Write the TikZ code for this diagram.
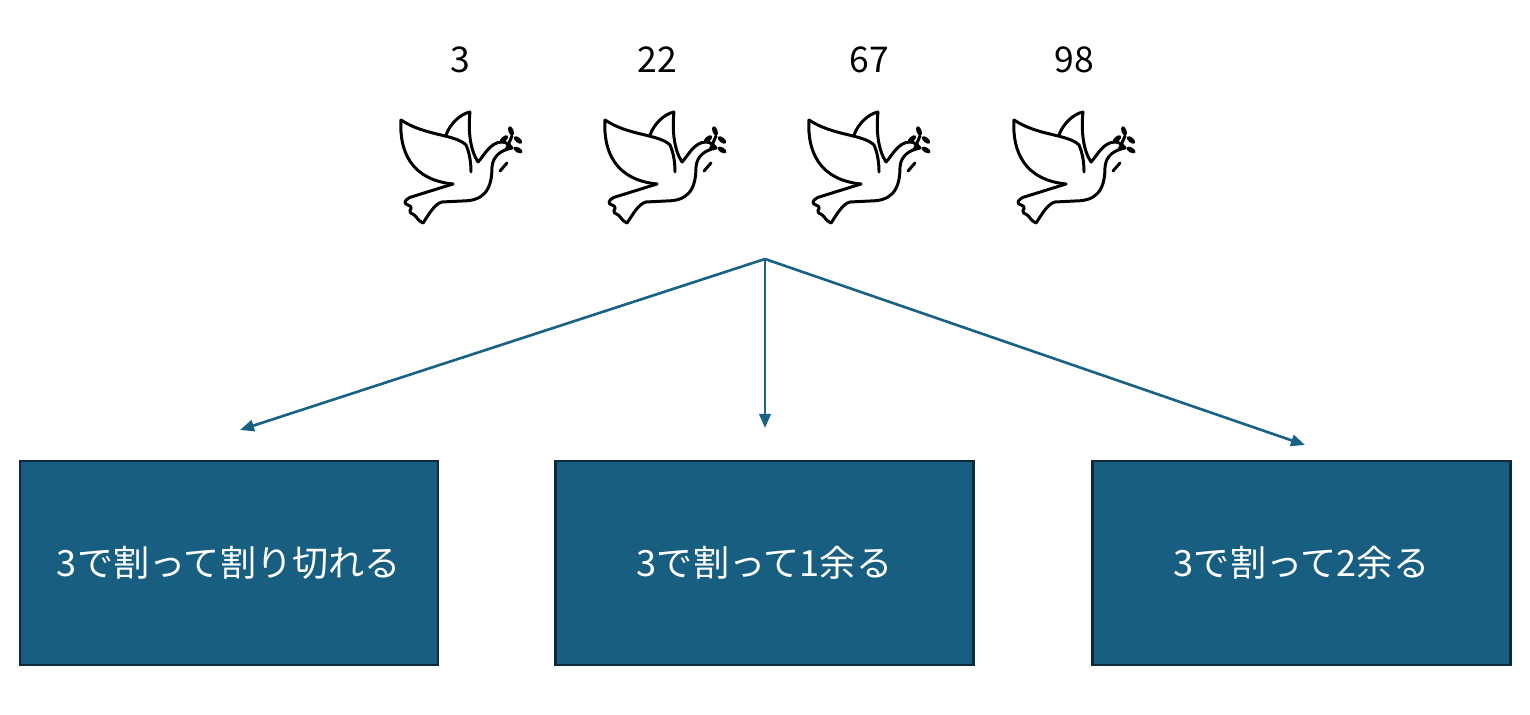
\documentclass[tikz,border=0pt]{standalone}
\usepackage{fontspec}
\setmainfont{Noto Sans CJK JP}
\usetikzlibrary{arrows.meta}
\definecolor{boxblue}{RGB}{23,94,128}
\definecolor{boxedge}{RGB}{14,42,58}
\definecolor{arrowblue}{RGB}{26,98,133}

\tikzset{
  dove/.pic={
    \begin{scope}[line width=1.7pt,line cap=round,line join=round]
      % front wing
      \draw (1,8) .. controls (-1,40) and (12,68) .. (53,72);
      \draw (1,8) .. controls (25,24) and (55,22) .. (66,33) .. controls (70,42) and (71,52) .. (71,60);
      % back wing
      \draw (46,23) .. controls (50,12) and (60,2) .. (70,0) .. controls (68,18) and (70,38) .. (78,50);
      % head and body
      \draw (78,50) .. controls (84,44) and (90,30) .. (102,30) .. controls (106,30) and (110,33) .. (112,36)
        .. controls (102,38) and (93,43) .. (92,55) .. controls (92,80) and (82,89) .. (62,89)
        -- (42,90) .. controls (34,92) and (28,104) .. (23,111);
      % tail
      \draw[rounded corners=1pt] (53,72) -- (8,86) -- (4,91) -- (12,95) -- (9,100) -- (16,104) -- (18,108) -- (23,111);
      % branch
      \draw (100,59) -- (107,51);
      \draw (106,38) -- (112,24);
      \fill[rotate around={20:(111,19)}] (111,19) ellipse [x radius=2.6, y radius=5];
      \fill[rotate around={-50:(104,27)}] (104,27) ellipse [x radius=2.6, y radius=5];
      \fill[rotate around={50:(118,28)}] (118,28) ellipse [x radius=2.6, y radius=5];
      \fill[rotate around={60:(118,38)}] (118,38) ellipse [x radius=2.6, y radius=5];
    \end{scope}
  }
}

\begin{document}
\begin{tikzpicture}[x=0.02cm,y=-0.02cm,
    numtext/.style={font=\fontsize{20.2pt}{24pt}\selectfont},
    modbox/.style={draw=boxedge,line width=1.3pt,fill=boxblue,text=white,
      minimum width=8.36cm,minimum height=4.08cm,inner sep=0pt,
      font=\fontsize{20.6pt}{24pt}\selectfont},
    link/.style={arrowblue,line width=1.5pt,-{Triangle[length=8pt,width=6.5pt]}}]
  \useasboundingbox (0,0) rectangle (1530,715);

  \foreach \x/\n/\m in {400/3/60,604/22/53,808/67/61,1013/98/61}{
    \pic at (\x,112) {dove};
    \node[numtext] (num\n) at (\x+\m,60) {\n};
  }

  \node[modbox] (mod0) at (229,563) {3で割って割り切れる};
  \node[modbox] (mod1) at (764.5,563) {3で割って1余る};
  \node[modbox] (mod2) at (1301.5,563) {3で割って2余る};

  \coordinate (split) at (765,259);
  \coordinate (to0) at (240,430);
  \coordinate (to1) at (765,428);
  \coordinate (to2) at (1305,445);
  \draw[link] (split) -- (to0);
  \draw[link] (split) -- (to1);
  \draw[link] (split) -- (to2);
\end{tikzpicture}
\end{document}
